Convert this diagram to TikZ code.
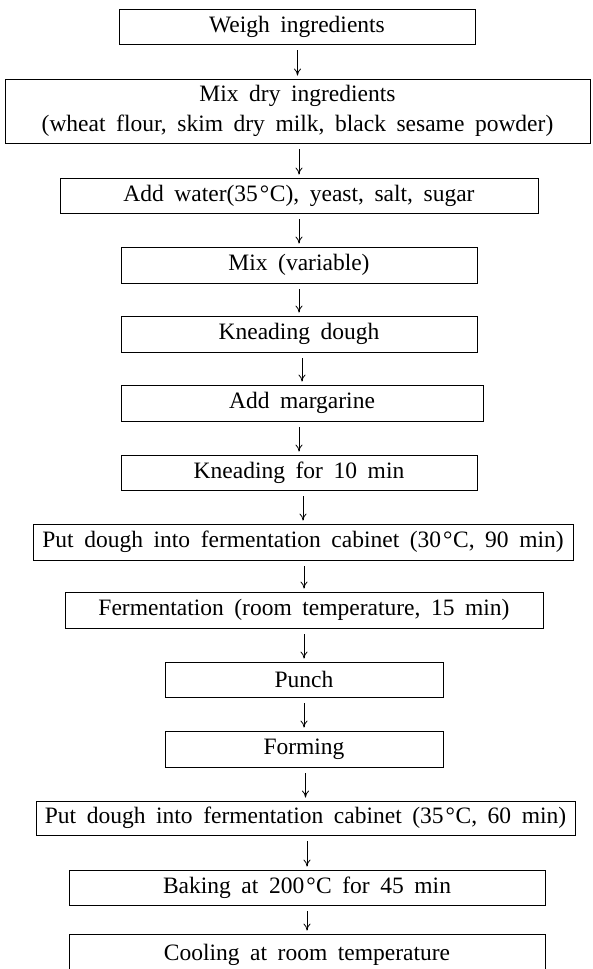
\documentclass[tikz,border=0pt]{standalone}
\usepackage{fontspec}
\setmainfont{Liberation Serif}[WordSpace=1.8]
\newcommand{\degC}{\kern2pt°\kern0.5pt C}
\usetikzlibrary{arrows.meta}

\begin{document}
\begin{tikzpicture}[x=1pt,y=-1pt,
    stepbox/.style={draw, line width=0.8pt, inner sep=0pt, align=center,
      font=\fontsize{23.5}{30}\selectfont},
    flow/.style={-{To[length=7pt,width=7pt]}, line width=0.8pt,
      shorten <=6pt, shorten >=3pt}]
  \useasboundingbox (0,0) rectangle (592,969);

  % boxes: number / left / right / top / bottom / text
  \foreach \n/\xl/\xr/\yt/\yb/\txt in {
      1/119/475/9/44/{Weigh ingredients},
      2/5/590/79/143/{Mix dry ingredients\\(wheat flour, skim dry milk, black sesame powder)},
      3/60/538/178/213/{Add water(35\degC), yeast, salt, sugar},
      4/121/477/247/283/{Mix (variable)},
      5/121/477/316/352/{Kneading dough},
      6/121/483/385/421/{Add margarine},
      7/121/477/455/490/{Kneading for 10 min},
      8/33/573/524/560/{Put dough into fermentation cabinet (30\degC, 90 min)},
      9/65/543/592/628/{Fermentation (room temperature, 15 min)},
      10/165/443/662/697/{Punch},
      11/165/443/731/767/{Forming},
      12/36/575/801/835/{Put dough into fermentation cabinet (35\degC, 60 min)},
      13/69/545/870/905/{Baking at 200\degC\ for 45 min},
      14/69/545/934/975/{Cooling at room temperature}} {
    \node[stepbox, minimum width={(\xr-\xl)*1pt}, minimum height={(\yb-\yt)*1pt}]
      (s\n) at ({(\xl+\xr)/2},{(\yt+\yb)/2}) {\txt};
  }

  \foreach \i [count=\j from 2] in {1,...,13} {
    \draw[flow] (s\j.north |- s\i.south) -- (s\j.north);
  }
\end{tikzpicture}
\end{document}
